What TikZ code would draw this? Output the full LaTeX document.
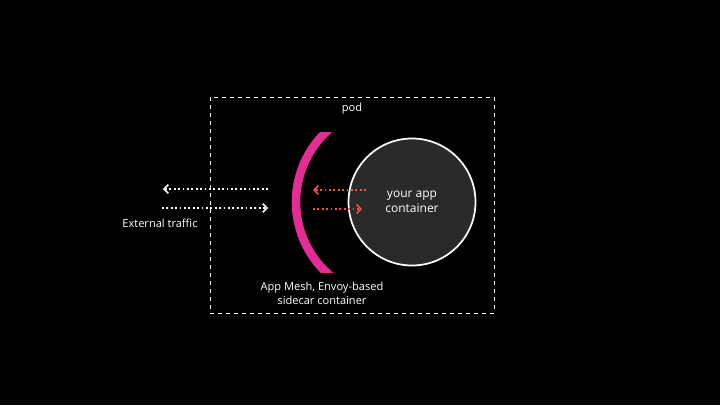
\documentclass[tikz,border=0pt]{standalone}
\usepackage{fontspec}
\setmainfont{Open Sans}
\usetikzlibrary{arrows.meta}
\definecolor{magentaarc}{HTML}{E52C94}
\definecolor{redflow}{HTML}{F0524E}
\definecolor{circfill}{HTML}{2A2A2A}
\begin{document}
\begin{tikzpicture}[x=0.75pt,y=-0.75pt,
  lbl/.style={text=white,font=\fontsize{8.3}{10.4}\selectfont,align=center,inner sep=0pt},
  whiteflow/.style={white,line width=1.3pt,dotted,-{Straight Barb[length=3.2pt,width=6.5pt,line width=1.2pt]}},
  redarrow/.style={redflow,line width=1.3pt,dotted,-{Straight Barb[length=3.2pt,width=6.5pt,line width=1.2pt]}},
]
\fill[black] (0,0) rectangle (720,405);
\useasboundingbox (0,0) rectangle (720,405);
% pod
\node[draw=white,dashed,line width=0.6pt,minimum width=284*0.75pt,minimum height=216*0.75pt,inner sep=0pt] (pod) at (352,205) {};
\node[lbl,anchor=base] (podlbl) at (352,111) {pod};
% app container
\node[circle,draw=white,line width=1.3pt,fill=circfill,minimum size=127*0.75pt,inner sep=0pt] (app) at (412,202) {};
\node[lbl,font=\fontsize{9}{11}\selectfont] (applbl) at (412,202) {your app\\container};
% sidecar arc
\coordinate (arcc) at (392.7,202);
\begin{scope}
  \clip (280,132) rectangle (340,272);
  \draw[magentaarc,line width=6.4pt] (arcc) ++(126:96.7) arc[start angle=126,end angle=234,radius=96.7];
\end{scope}
\node[lbl] (sidelbl) at (322,293) {App Mesh, Envoy-based\\sidecar container};
% external traffic
\coordinate (ext1s) at (268,189);
\coordinate (ext1e) at (163,189);
\coordinate (ext2s) at (162,208);
\coordinate (ext2e) at (268,208);
\draw[whiteflow] (ext1s) -- (ext1e);
\draw[whiteflow] (ext2s) -- (ext2e);
\node[lbl] (extlbl) at (160,223) {External traffic};
% internal
\coordinate (in1s) at (366,190);
\coordinate (in1e) at (313,190);
\coordinate (in2s) at (313,209);
\coordinate (in2e) at (362,209);
\draw[redarrow] (in1s) -- (in1e);
\draw[redarrow] (in2s) -- (in2e);
\end{tikzpicture}
\end{document}
